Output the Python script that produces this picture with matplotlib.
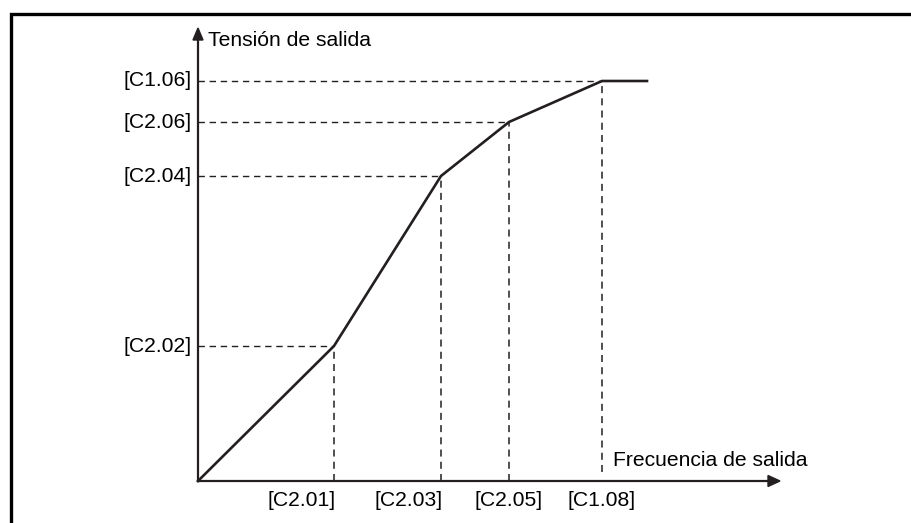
import matplotlib
matplotlib.use("Agg")
import matplotlib.pyplot as plt
from matplotlib.patches import Polygon

# break points of the V/f curve (schematic units, origin at axes crossing)
freq = [0, 136, 243, 311, 404, 449]
volt = [0, 135, 305, 359, 400, 400]
freq_labels = ['[C2.01]', '[C2.03]', '[C2.05]', '[C1.08]']
volt_labels = ['[C2.02]', '[C2.04]', '[C2.06]', '[C1.06]']
freq_align = ['right', 'right', 'center', 'center']

INK = '#231f20'
FS = 15.2
plt.rcParams['font.family'] = ['Liberation Sans', 'DejaVu Sans']

W, H = 912, 523
ox, oy = 198, 481  # pixel position of the origin
fig = plt.figure(figsize=(W / 100, H / 100), dpi=100)
ax = fig.add_axes([0, 0, 1, 1])
ax.set_xlim(-ox, W - ox)
ax.set_ylim(-(H - oy), oy)
ax.axis('off')

# frame (only top and left visible)
ax.plot([-ox + 10.5, -ox + 10.5, W], [-(H - oy) - 5, oy - 13.5, oy - 13.5],
        color='black', lw=2.4, solid_joinstyle='miter', clip_on=False)

# axes with arrows
x_end, y_end = 780 - ox, oy - 28
ax.plot([0, x_end - 10], [0, 0], color=INK, lw=1.6)
ax.plot([0, 0], [0, y_end - 10], color=INK, lw=1.6)
ax.add_patch(Polygon([[x_end, 0], [x_end - 12, 5.5], [x_end - 12, -5.5]], closed=True, color=INK))
ax.add_patch(Polygon([[0, y_end], [-5, y_end - 12], [5, y_end - 12]], closed=True, color=INK))

# curve
ax.plot(freq, volt, color=INK, lw=1.9, solid_joinstyle='miter')

dash = (0, (4.6, 3.4))
pts = list(zip(freq[1:5], volt[1:5]))
for i, (f, v) in enumerate(pts):
    ax.plot([0, f], [v, v], color=INK, lw=1.0, linestyle=dash)
    bottom = 9 if i == len(pts) - 1 else 0
    ax.plot([f, f], [bottom, v], color=INK, lw=1.1, linestyle=dash)
    ax.text(-6, v, volt_labels[i], ha='right', va='center', fontsize=FS, color='black')
    dx = 2 if freq_align[i] == 'right' else 0
    ax.text(f + dx, -19, freq_labels[i], ha=freq_align[i], va='center', fontsize=FS, color='black')

ax.text(10, oy - 40, 'Tensión de salida', ha='left', va='center', fontsize=FS)
ax.text(415, 21, 'Frecuencia de salida', ha='left', va='center', fontsize=FS)

fig.savefig('out.png', dpi=100)
